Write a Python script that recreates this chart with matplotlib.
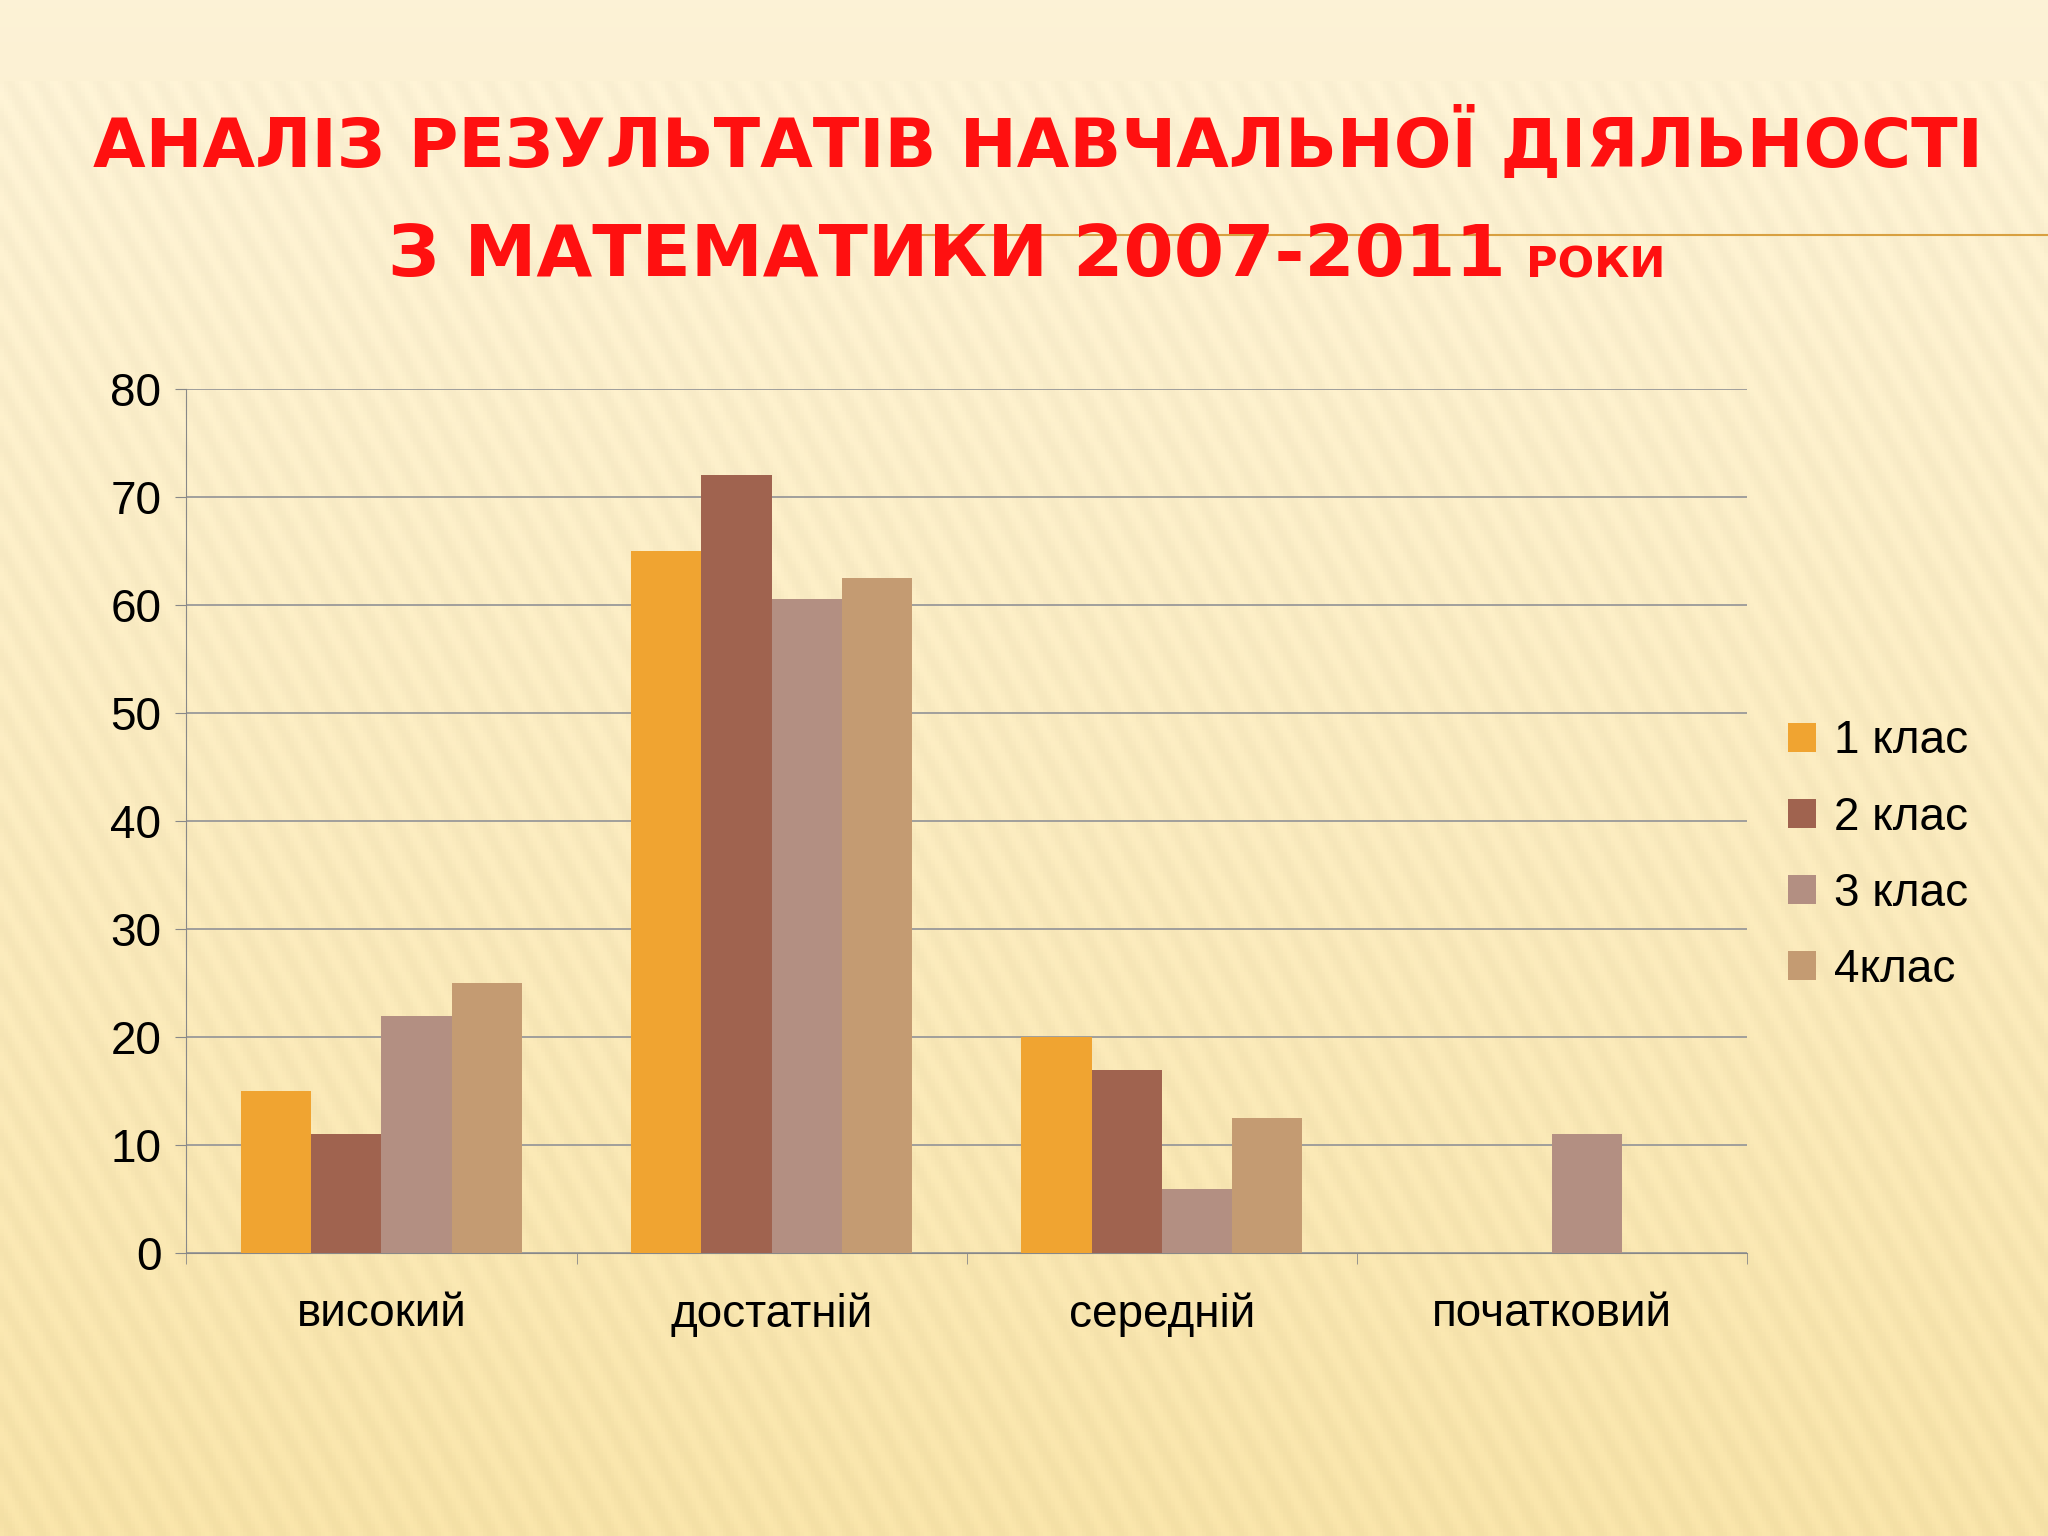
import numpy as np
import matplotlib
matplotlib.use("Agg")
import matplotlib.pyplot as plt

# ── data ──────────────────────────────────────────────────────────────────────
levels = ["високий", "достатній", "середній", "початковий"]
series_names = ["1 клас", "2 клас", "3 клас", "4клас"]
class1 = [15, 65, 20, 0]
class2 = [11, 72, 17, 0]
class3 = [22, 60.5, 6, 11]
class4 = [25, 62.5, 12.5, 0]
colors = ["#F0A431", "#A0634F", "#B38F82", "#C49B72"]
yticks = [0, 10, 20, 30, 40, 50, 60, 70, 80]

plt.rcParams['font.family'] = ['Liberation Sans', 'DejaVu Sans']

fig = plt.figure(figsize=(20.48, 15.36), dpi=100)

# ── background: cream gradient with faint diagonal stripes ──
bg = fig.add_axes([0, 0, 1, 1])
h, w = 400, 530
yy, xx = np.mgrid[0:h, 0:w]
base = np.zeros((h, w, 3))
t = yy / h
top = np.array([0.99, 0.95, 0.84])
bot = np.array([0.97, 0.89, 0.66])
for c in range(3):
    base[..., c] = top[c] * (1 - t) + bot[c] * t
stripes = 0.012 * np.sin((xx * 0.9 - yy * 0.5) * 0.9)
base = np.clip(base + stripes[..., None] * (t[..., None] > 0.05), 0, 1)
bg.imshow(base, aspect='auto', extent=[0, 1, 0, 1])
bg.axhline(0.847, xmin=0.45, xmax=1, color="#D8A040", lw=1.5)
bg.set_xlim(0, 1); bg.set_ylim(0, 1)
bg.axis('off')

# ── title ──
title_kw = dict(color="#FF1010", fontweight='bold', family=['DejaVu Sans'],
                va='center')
fig.text(0.507, 0.906, "АНАЛІЗ РЕЗУЛЬТАТІВ НАВЧАЛЬНОЇ ДІЯЛЬНОСТІ",
         fontsize=49, ha='center', **title_kw)
fig.text(0.735, 0.833, "З МАТЕМАТИКИ 2007-2011", fontsize=52, ha='right', **title_kw)
fig.text(0.745, 0.827, "РОКИ", fontsize=31, ha='left', **title_kw)

# ── chart ──
ax = fig.add_axes([0.091, 0.184, 0.762, 0.563])
ax.patch.set_alpha(0)
x = np.arange(len(levels))
bw = 0.18
for i, (vals, name) in enumerate(zip([class1, class2, class3, class4], series_names)):
    ax.bar(x + (i - 1.5) * bw, vals, bw, color=colors[i], label=name, zorder=3)

ax.set_xlim(-0.5, len(levels) - 0.5)
ax.set_ylim(0, 80)
ax.set_yticks(yticks)
ax.yaxis.grid(True, color="#999999", lw=1.3, zorder=0)
ax.set_xticks(x)
ax.set_xticklabels(levels, fontsize=33)
ax.set_xticks(np.arange(len(levels) + 1) - 0.5, minor=True)
ax.tick_params(axis='x', which='major', length=0, pad=28)
ax.tick_params(axis='x', which='minor', length=8, color="#888888")
ax.tick_params(axis='y', labelsize=33, length=8, color="#888888", pad=10)
for s in ['top', 'right']:
    ax.spines[s].set_visible(False)
for s in ['left', 'bottom']:
    ax.spines[s].set_color("#888888")

ax.legend(loc='center left', bbox_to_anchor=(1.0, 0.46), frameon=False,
          fontsize=33, handlelength=0.6, handleheight=0.6, handletextpad=0.4,
          labelspacing=0.7, borderaxespad=0.5)

fig.savefig("out.png", dpi=100)
